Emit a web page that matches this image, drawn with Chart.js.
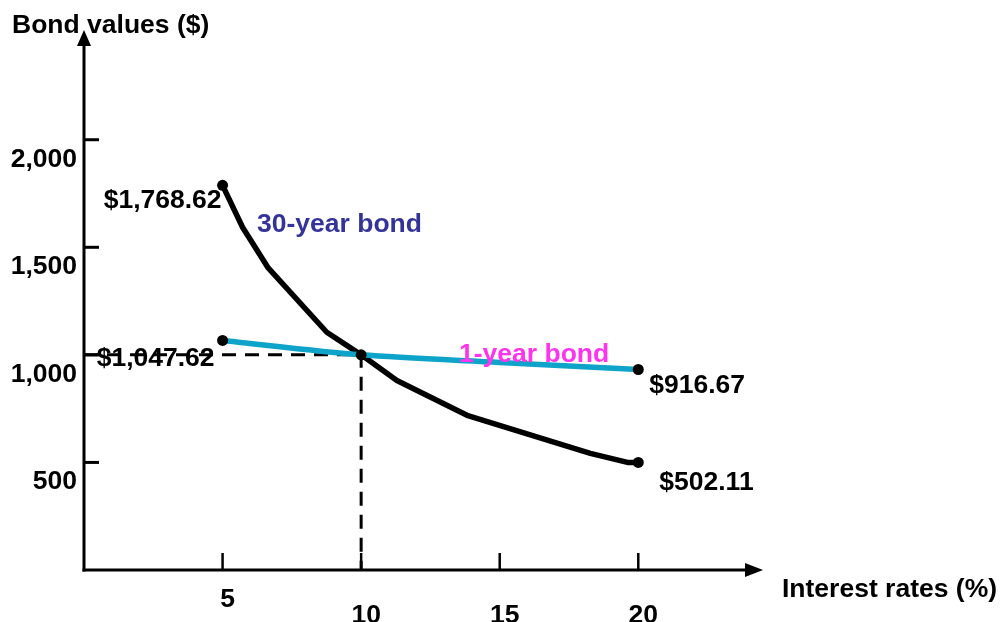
<!DOCTYPE html>
<html>
<head>
<meta charset="utf-8">
<script src="https://cdn.jsdelivr.net/npm/chart.js@4.4.1/dist/chart.umd.min.js"></script>
<style>
  html, body { margin: 0; padding: 0; background: #fff; }
  #chart { display: block; }
</style>
</head>
<body>
<canvas id="chart" width="1001" height="622"></canvas>
<script>
// Interest rates (%) and bond values ($)
const thirtyYearRates = [5, 5.72, 6.63, 8.76, 10, 11.29, 13.82, 18.27, 19.61, 20];
const thirtyYearValues = [1788, 1593, 1407, 1105, 1000, 881, 719, 542, 500, 500];

const oneYearRates = [5, 10, 15, 20];
const oneYearValues = [1067, 1000, 965, 932];

// reference guide through the crossing point
const guideRates = [0, 10, 10];
const guideValues = [1000, 1000, 0];

const yTickValues = [500, 1000, 1500, 2000];
const yTickLabels = ['500', '1,000', '1,500', '2,000'];
const xTickValues = [5, 10, 15, 20];
const xTickLabels = ['5', '10', '15', '20'];

const endLabels = ['$1,768.62', '$502.11', '$1,047.62', '$916.67'];

const FONT = 'bold 26.5px "Liberation Sans", Arial, sans-serif';

const toPoints = (xs, ys) => xs.map((x, i) => ({ x, y: ys[i] }));

const dotPoints = [
  { x: thirtyYearRates[0], y: thirtyYearValues[0] },
  { x: thirtyYearRates[thirtyYearRates.length - 1], y: thirtyYearValues[thirtyYearValues.length - 1] },
  { x: oneYearRates[0], y: oneYearValues[0] },
  { x: oneYearRates[oneYearRates.length - 1], y: oneYearValues[oneYearValues.length - 1] },
  { x: 10, y: 1000 }
];

function text(ctx, str, x, y, align, color) {
  ctx.fillStyle = color || '#000';
  ctx.textAlign = align || 'left';
  ctx.textBaseline = 'alphabetic';
  ctx.fillText(str, x, y);
}

// axes with arrows, tick marks and all labels
const axesPlugin = {
  id: 'axesPlugin',
  beforeDatasetsDraw(chart) {
    const { ctx, chartArea: a, scales: { x, y } } = chart;
    ctx.save();
    ctx.strokeStyle = '#000';
    ctx.fillStyle = '#000';
    ctx.lineWidth = 3;

    // y axis + arrow
    ctx.beginPath();
    ctx.moveTo(a.left, a.bottom + 1.5);
    ctx.lineTo(a.left, a.top + 12);
    ctx.stroke();
    ctx.beginPath();
    ctx.moveTo(a.left, a.top);
    ctx.lineTo(a.left - 7, a.top + 16);
    ctx.lineTo(a.left + 7, a.top + 16);
    ctx.closePath();
    ctx.fill();

    // x axis + arrow
    ctx.beginPath();
    ctx.moveTo(a.left - 1.5, a.bottom);
    ctx.lineTo(a.right - 12, a.bottom);
    ctx.stroke();
    ctx.beginPath();
    ctx.moveTo(a.right, a.bottom);
    ctx.lineTo(a.right - 18, a.bottom - 7);
    ctx.lineTo(a.right - 18, a.bottom + 7);
    ctx.closePath();
    ctx.fill();

    // y ticks (inside)
    ctx.lineWidth = 3;
    yTickValues.forEach(v => {
      const py = y.getPixelForValue(v);
      ctx.beginPath();
      ctx.moveTo(a.left, py);
      ctx.lineTo(a.left + 15, py);
      ctx.stroke();
    });

    // x ticks (inside)
    ctx.lineWidth = 2.5;
    xTickValues.forEach(v => {
      const px = x.getPixelForValue(v);
      ctx.beginPath();
      ctx.moveTo(px, a.bottom);
      ctx.lineTo(px, a.bottom - 17);
      ctx.stroke();
    });

    ctx.font = FONT;
    yTickValues.forEach((v, i) => {
      text(ctx, yTickLabels[i], a.left - 7, y.getPixelForValue(v) + 27, 'right');
    });
    xTickValues.forEach((v, i) => {
      const base = i === 0 ? a.bottom + 37 : a.bottom + 53;
      text(ctx, xTickLabels[i], x.getPixelForValue(v) + 5, base, 'center');
    });

    text(ctx, 'Bond values ($)', 12, 33, 'left');
    text(ctx, 'Interest rates (%)', 782, 597, 'left');
    ctx.restore();
  },
  afterDatasetsDraw(chart) {
    const { ctx, scales: { x, y } } = chart;
    const px = v => x.getPixelForValue(v);
    const py = v => y.getPixelForValue(v);
    ctx.save();
    ctx.font = FONT;
    const [p30a, p30b, p1a, p1b] = dotPoints;
    text(ctx, endLabels[0], px(p30a.x) - 1, py(p30a.y) + 23, 'right');
    text(ctx, endLabels[1], px(p30b.x) + 21, py(p30b.y) + 28, 'left');
    text(ctx, endLabels[2], px(p1a.x) - 8, py(p1a.y) + 26, 'right');
    text(ctx, endLabels[3], px(p1b.x) + 11, py(p1b.y) + 24, 'left');
    text(ctx, '30-year bond', 257, 232, 'left', '#333399');
    text(ctx, '1-year bond', 459, 362, 'left', '#ff33ee');
    ctx.restore();
  }
};

new Chart(document.getElementById('chart'), {
  type: 'scatter',
  data: {
    datasets: [
      {
        label: 'dots',
        data: dotPoints,
        showLine: false,
        pointRadius: 5.5,
        pointBackgroundColor: '#000',
        pointBorderWidth: 0,
        order: 0
      },
      {
        label: '1-year bond',
        data: toPoints(oneYearRates, oneYearValues),
        showLine: true,
        borderColor: '#0ea3c8',
        borderWidth: 5.5,
        tension: 0.3,
        pointRadius: 0,
        order: 1
      },
      {
        label: '30-year bond',
        data: toPoints(thirtyYearRates, thirtyYearValues),
        showLine: true,
        borderColor: '#000',
        borderWidth: 5.5,
        tension: 0,
        borderJoinStyle: 'round',
        pointRadius: 0,
        order: 2
      },
      {
        label: 'guide',
        data: toPoints(guideRates, guideValues),
        showLine: true,
        borderColor: '#000',
        borderWidth: 3,
        borderDash: [14, 9],
        pointRadius: 0,
        order: 3
      }
    ]
  },
  options: {
    responsive: false,
    devicePixelRatio: 1,
    animation: false,
    layout: { padding: { left: 84, top: 30, right: 238, bottom: 52 } },
    plugins: {
      legend: { display: false },
      tooltip: { enabled: false }
    },
    scales: {
      x: { type: 'linear', min: 0, max: 24.5, display: false },
      y: { type: 'linear', min: 0, max: 2510, display: false }
    }
  },
  plugins: [axesPlugin]
});
</script>
</body>
</html>
